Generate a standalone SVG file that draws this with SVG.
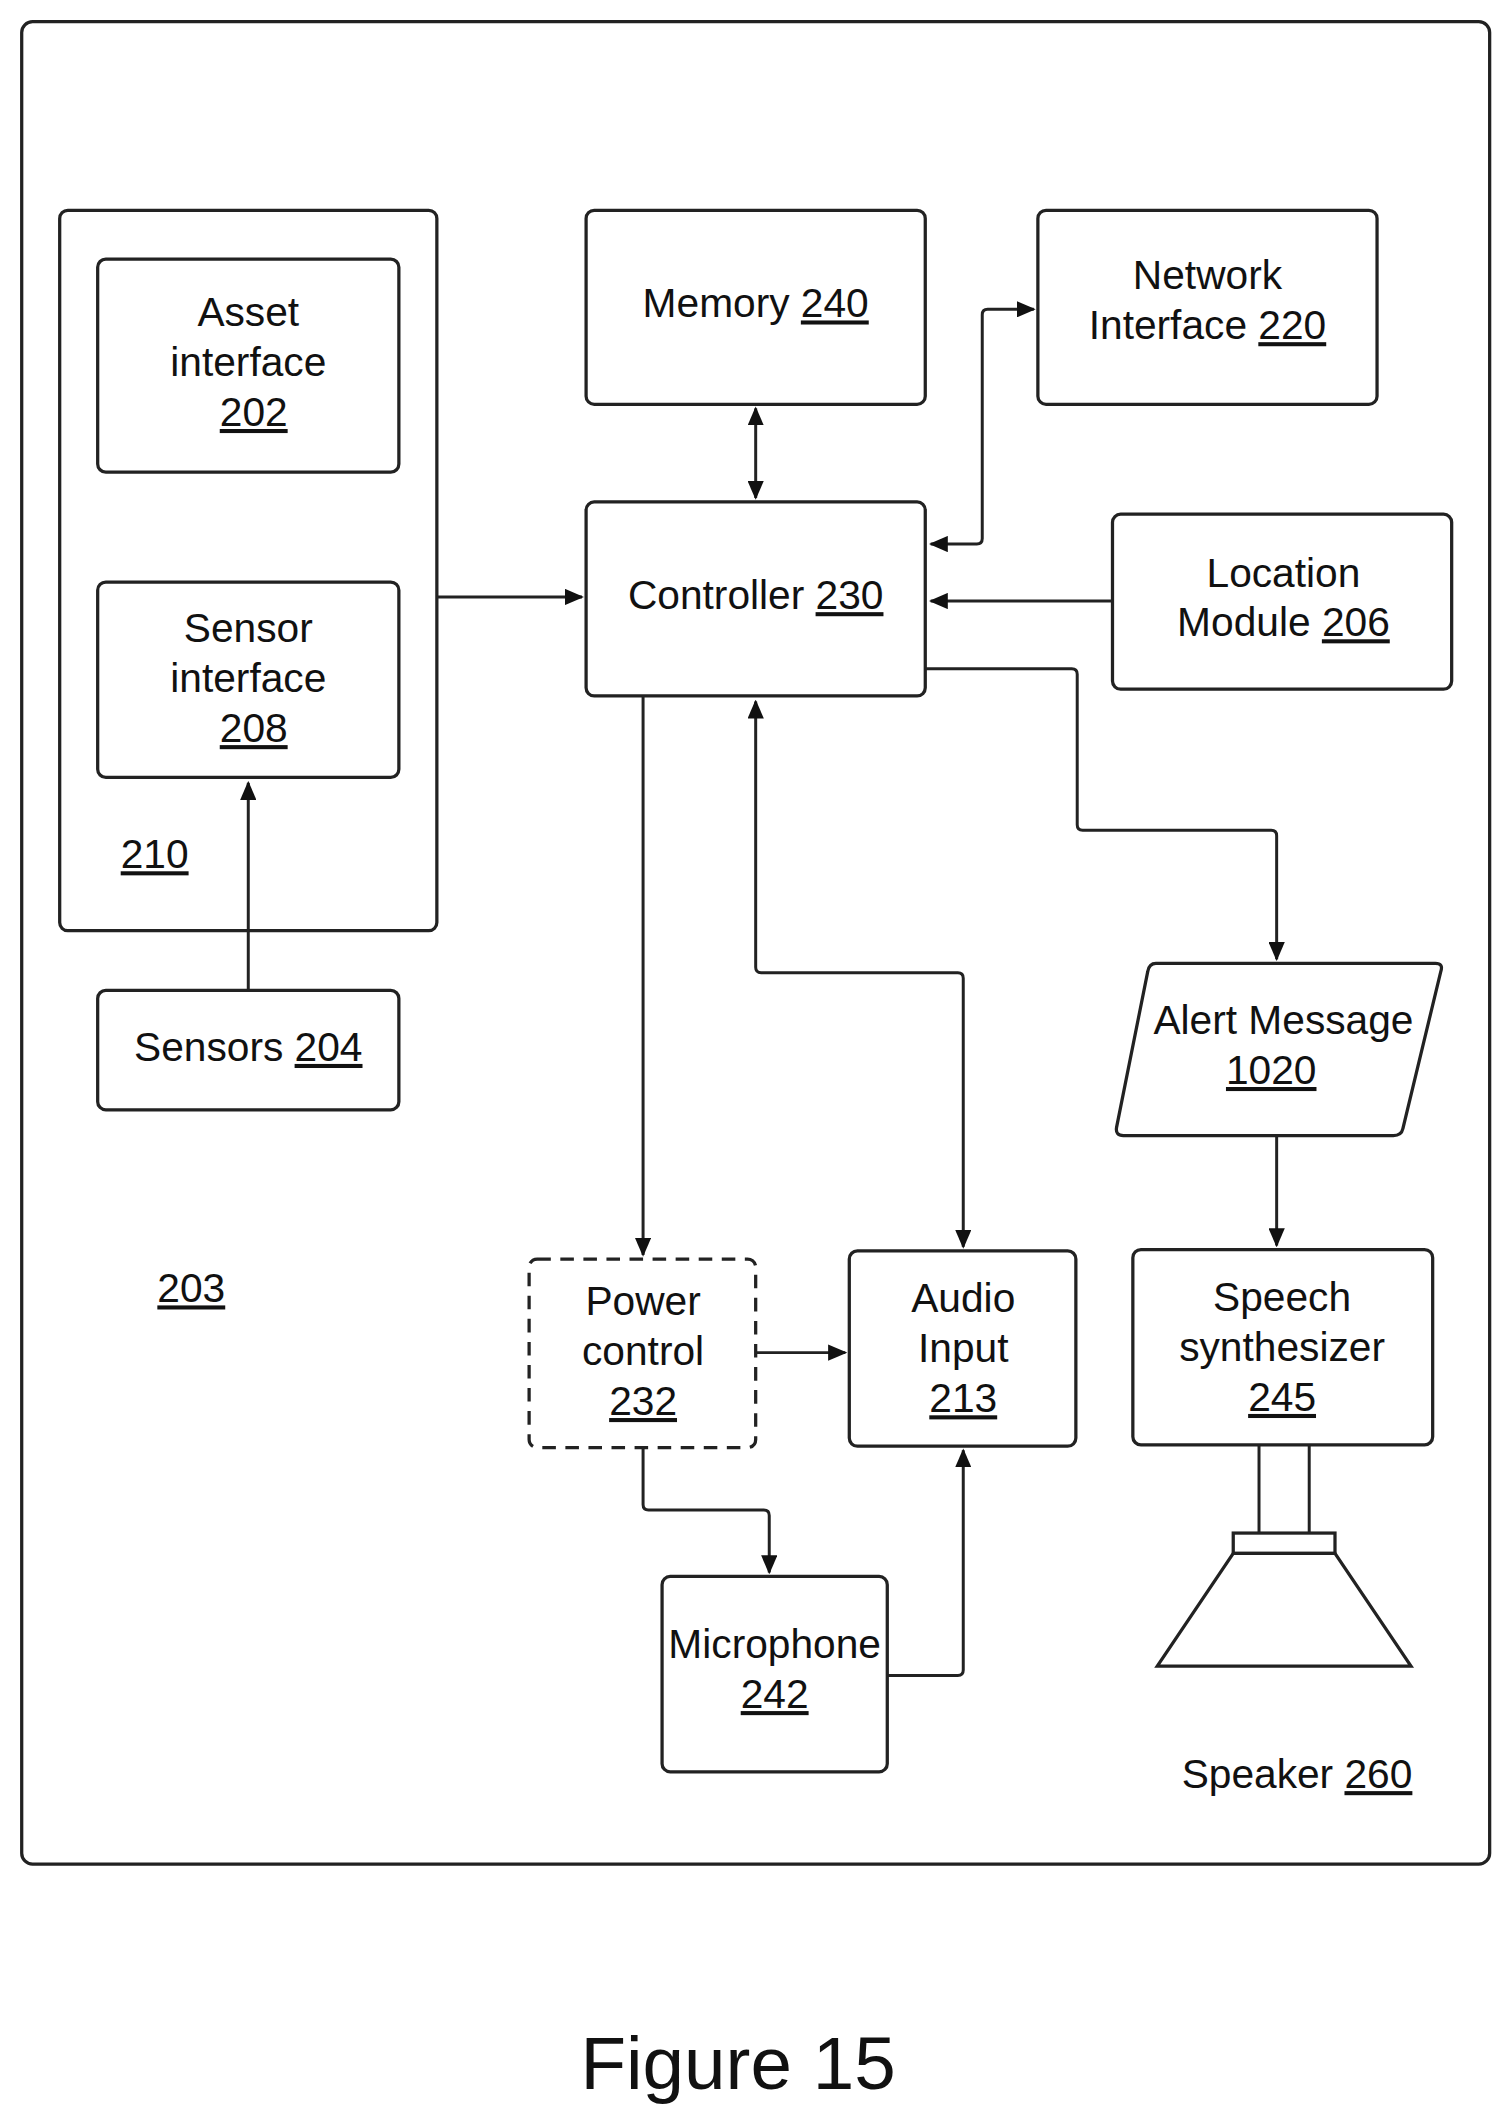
<svg xmlns="http://www.w3.org/2000/svg" width="1510" height="2124" viewBox="0 0 1510 2124">
<style>
.b{fill:#fff;stroke:#222;stroke-width:2.4}
.c{fill:none;stroke:#222;stroke-width:2.2}
text{font-family:"Liberation Sans",Arial,sans-serif;font-size:30px;fill:#111;text-anchor:middle}
.u{text-decoration:underline}
</style>
<defs>
<marker id="a" viewBox="0 0 10 10" refX="9" refY="5" markerWidth="14" markerHeight="12" markerUnits="userSpaceOnUse" orient="auto-start-reverse" preserveAspectRatio="none"><path d="M0,0L10,5L0,10z" fill="#111"/></marker>
</defs>
<rect width="1510" height="2124" fill="#fff"/>
<g transform="scale(1.3567)">
<rect id="frame" class="b" x="16" y="16" width="1082" height="1358" rx="8"/>
<g id="n210"><rect class="b" x="44" y="155" width="278" height="531" rx="6"/><text x="114" y="640" class="u">210</text></g>
<g id="n202"><rect class="b" x="72" y="191" width="222" height="157" rx="6"/><text x="183" y="240">Asset</text><text x="183" y="277">interface</text><text x="187" y="314" class="u">202</text></g>
<g id="n208"><rect class="b" x="72" y="429" width="222" height="144" rx="6"/><text x="183" y="473">Sensor</text><text x="183" y="510">interface</text><text x="187" y="547" class="u">208</text></g>
<g id="n204"><rect class="b" x="72" y="730" width="222" height="88" rx="6"/><text x="183" y="782">Sensors <tspan class="u">204</tspan></text></g>
<g id="n203"><text x="141" y="960" class="u">203</text></g>
<g id="n240"><rect class="b" x="432" y="155" width="250" height="143" rx="6"/><text x="557" y="234">Memory <tspan class="u">240</tspan></text></g>
<g id="n220"><rect class="b" x="765" y="155" width="250" height="143" rx="6"/><text x="890" y="213">Network</text><text x="890" y="250">Interface <tspan class="u">220</tspan></text></g>
<g id="n230"><rect class="b" x="432" y="370" width="250" height="143" rx="6"/><text x="557" y="449">Controller <tspan class="u">230</tspan></text></g>
<g id="n206"><rect class="b" x="820" y="379" width="250" height="129" rx="6"/><text x="946" y="433">Location</text><text x="946" y="469">Module <tspan class="u">206</tspan></text></g>
<g id="n1020"><path class="b" d="M852,710H1058Q1064,710 1062,716L1034,832Q1033,837 1027,837H828Q822,837 823,831L846,716Q847,710 852,710Z"/><text x="946" y="762">Alert Message</text><text x="937" y="799" class="u">1020</text></g>
<g id="n232"><rect class="b" x="390" y="928" width="167" height="139" rx="6" stroke-dasharray="10,7"/><text x="474" y="969">Power</text><text x="474" y="1006">control</text><text x="474" y="1043" class="u">232</text></g>
<g id="n213"><rect class="b" x="626" y="922" width="167" height="144" rx="6"/><text x="710" y="967">Audio</text><text x="710" y="1004">Input</text><text x="710" y="1041" class="u">213</text></g>
<g id="n245"><rect class="b" x="835" y="921" width="221" height="144" rx="6"/><text x="945" y="966">Speech</text><text x="945" y="1003">synthesizer</text><text x="945" y="1040" class="u">245</text></g>
<g id="n242"><rect class="b" x="488" y="1162" width="166" height="144" rx="6"/><text x="571" y="1222">Microphone</text><text x="571" y="1259" class="u">242</text></g>
<g id="n260"><path class="c" d="M928,1065V1130M965,1065V1130"/><rect class="b" x="909" y="1130" width="75" height="15"/><path class="b" d="M909,1145H984L1040,1228H853Z"/><text x="956" y="1318">Speaker <tspan class="u">260</tspan></text></g>
<g id="connectors">
<path class="c" d="M322,440H429" marker-end="url(#a)"/>
<path class="c" d="M183,730V577" marker-end="url(#a)"/>
<path class="c" d="M557,301V367" marker-start="url(#a)" marker-end="url(#a)"/>
<path class="c" d="M686,401H720Q724,401 724,397V232Q724,228 728,228H762" marker-start="url(#a)" marker-end="url(#a)"/>
<path class="c" d="M820,443H686" marker-end="url(#a)"/>
<path class="c" d="M682,493H790Q794,493 794,497V608Q794,612 798,612H937Q941,612 941,616V707" marker-end="url(#a)"/>
<path class="c" d="M941,837V918" marker-end="url(#a)"/>
<path class="c" d="M474,513V925" marker-end="url(#a)"/>
<path class="c" d="M710,919V721Q710,717 706,717H561Q557,717 557,713V517" marker-start="url(#a)" marker-end="url(#a)"/>
<path class="c" d="M557,997H623" marker-end="url(#a)"/>
<path class="c" d="M474,1067V1109Q474,1113 478,1113H563Q567,1113 567,1117V1159" marker-end="url(#a)"/>
<path class="c" d="M654,1235H706Q710,1235 710,1231V1069" marker-end="url(#a)"/>
</g>
<text x="544" y="1540" style="font-size:55px">Figure 15</text>
</g>
</svg>
